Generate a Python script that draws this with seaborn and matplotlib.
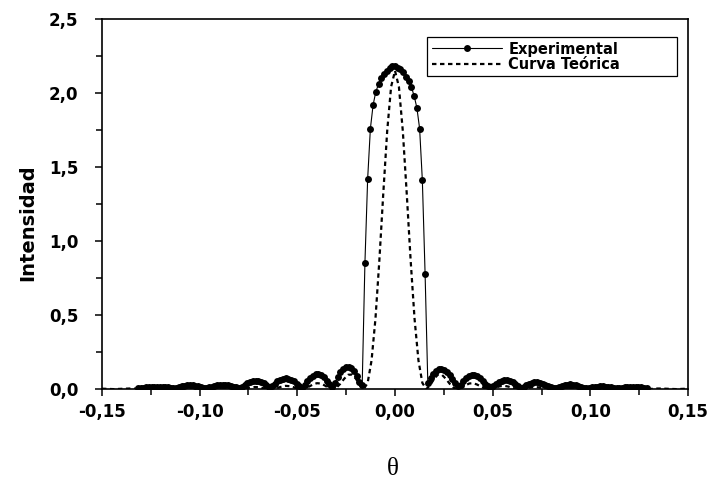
import pandas as pd
import matplotlib
matplotlib.use("Agg")
import matplotlib.pyplot as plt
import seaborn as sns
from matplotlib.ticker import MultipleLocator, FuncFormatter

# experimental points (angle, intensity)
theta_exp = [
    -0.1316, -0.1302, -0.1288, -0.1274, -0.1260, -0.1246, -0.1232, -0.1218, -0.1204, -0.1190,
    -0.1176, -0.1162, -0.1148, -0.1134, -0.1120, -0.1106, -0.1092, -0.1078, -0.1064, -0.1050,
    -0.1036, -0.1022, -0.1008, -0.0994, -0.0980, -0.0966, -0.0952, -0.0938, -0.0924, -0.0910,
    -0.0896, -0.0882, -0.0868, -0.0854, -0.0840, -0.0826, -0.0812, -0.0798, -0.0784, -0.0770,
    -0.0756, -0.0742, -0.0728, -0.0714, -0.0700, -0.0686, -0.0672, -0.0658, -0.0644, -0.0630,
    -0.0616, -0.0602, -0.0588, -0.0574, -0.0560, -0.0546, -0.0532, -0.0518, -0.0504, -0.0490,
    -0.0476, -0.0462, -0.0448, -0.0434, -0.0420, -0.0406, -0.0392, -0.0378, -0.0364, -0.0350,
    -0.0336, -0.0322, -0.0308, -0.0294, -0.0280, -0.0266, -0.0252, -0.0238, -0.0224, -0.0210,
    -0.0196, -0.0182, -0.0168, -0.0154, -0.0140, -0.0126, -0.0112, -0.0098, -0.0084, -0.0070,
    -0.0056, -0.0042, -0.0028, -0.0014, 0.0000, 0.0014, 0.0028, 0.0042, 0.0056, 0.0070,
    0.0084, 0.0098, 0.0112, 0.0126, 0.0140, 0.0154, 0.0168, 0.0182, 0.0196, 0.0210,
    0.0224, 0.0238, 0.0252, 0.0266, 0.0280, 0.0294, 0.0308, 0.0322, 0.0336, 0.0350,
    0.0364, 0.0378, 0.0392, 0.0406, 0.0420, 0.0434, 0.0448, 0.0462, 0.0476, 0.0490,
    0.0504, 0.0518, 0.0532, 0.0546, 0.0560, 0.0574, 0.0588, 0.0602, 0.0616, 0.0630,
    0.0644, 0.0658, 0.0672, 0.0686, 0.0700, 0.0714, 0.0728, 0.0742, 0.0756, 0.0770,
    0.0784, 0.0798, 0.0812, 0.0826, 0.0840, 0.0854, 0.0868, 0.0882, 0.0896, 0.0910,
    0.0924, 0.0938, 0.0952, 0.0966, 0.0980, 0.0994, 0.1008, 0.1022, 0.1036, 0.1050,
    0.1064, 0.1078, 0.1092, 0.1106, 0.1120, 0.1134, 0.1148, 0.1162, 0.1176, 0.1190,
    0.1204, 0.1218, 0.1232, 0.1246, 0.1260, 0.1274, 0.1288,
]
int_exp = [
    0.005, 0.006, 0.008, 0.011, 0.014, 0.016, 0.017, 0.017, 0.017, 0.016,
    0.014, 0.011, 0.009, 0.007, 0.010, 0.015, 0.020, 0.024, 0.027, 0.028,
    0.027, 0.024, 0.020, 0.015, 0.010, 0.007, 0.011, 0.016, 0.021, 0.025,
    0.027, 0.028, 0.027, 0.025, 0.021, 0.016, 0.011, 0.007, 0.014, 0.026,
    0.040, 0.051, 0.057, 0.058, 0.056, 0.050, 0.039, 0.026, 0.013, 0.020,
    0.036, 0.052, 0.064, 0.070, 0.072, 0.070, 0.064, 0.052, 0.036, 0.021,
    0.010, 0.028, 0.052, 0.075, 0.091, 0.099, 0.100, 0.094, 0.080, 0.058,
    0.034, 0.013, 0.040, 0.080, 0.115, 0.138, 0.149, 0.150, 0.142, 0.122,
    0.090, 0.050, 0.025, 0.85, 1.42, 1.76, 1.92, 2.01, 2.06, 2.10,
    2.13, 2.15, 2.17, 2.18, 2.18, 2.17, 2.16, 2.14, 2.11, 2.08,
    2.04, 1.98, 1.90, 1.76, 1.41, 0.78, 0.040, 0.075, 0.105, 0.125,
    0.134, 0.135, 0.130, 0.118, 0.098, 0.070, 0.040, 0.018, 0.030, 0.052,
    0.072, 0.086, 0.092, 0.092, 0.086, 0.073, 0.055, 0.035, 0.018, 0.010,
    0.018, 0.032, 0.045, 0.055, 0.060, 0.060, 0.056, 0.047, 0.034, 0.020,
    0.010, 0.016, 0.026, 0.036, 0.042, 0.045, 0.045, 0.043, 0.037, 0.029,
    0.020, 0.012, 0.008, 0.009, 0.015, 0.022, 0.028, 0.031, 0.032, 0.031,
    0.027, 0.021, 0.014, 0.009, 0.007, 0.009, 0.012, 0.015, 0.017, 0.018,
    0.018, 0.017, 0.015, 0.012, 0.009, 0.007, 0.006, 0.008, 0.011, 0.013,
    0.015, 0.015, 0.015, 0.013, 0.011, 0.009, 0.007,
]

# theoretical curve
theta_teo = [
    -0.150, -0.148, -0.146, -0.144, -0.142, -0.140, -0.138, -0.136, -0.134, -0.132,
    -0.130, -0.128, -0.126, -0.124, -0.122, -0.120, -0.118, -0.116, -0.114, -0.112,
    -0.110, -0.108, -0.106, -0.104, -0.102, -0.100, -0.098, -0.096, -0.094, -0.092,
    -0.090, -0.088, -0.086, -0.084, -0.082, -0.080, -0.078, -0.076, -0.074, -0.072,
    -0.070, -0.068, -0.066, -0.064, -0.062, -0.060, -0.058, -0.056, -0.054, -0.052,
    -0.050, -0.048, -0.046, -0.044, -0.042, -0.040, -0.038, -0.036, -0.034, -0.032,
    -0.030, -0.028, -0.026, -0.024, -0.022, -0.020, -0.018, -0.016, -0.014, -0.012,
    -0.010, -0.008, -0.006, -0.004, -0.002, 0.000, 0.002, 0.004, 0.006, 0.008,
    0.010, 0.012, 0.014, 0.016, 0.018, 0.020, 0.022, 0.024, 0.026, 0.028,
    0.030, 0.032, 0.034, 0.036, 0.038, 0.040, 0.042, 0.044, 0.046, 0.048,
    0.050, 0.052, 0.054, 0.056, 0.058, 0.060, 0.062, 0.064, 0.066, 0.068,
    0.070, 0.072, 0.074, 0.076, 0.078, 0.080, 0.082, 0.084, 0.086, 0.088,
    0.090, 0.092, 0.094, 0.096, 0.098, 0.100, 0.102, 0.104, 0.106, 0.108,
    0.110, 0.112, 0.114, 0.116, 0.118, 0.120, 0.122, 0.124, 0.126, 0.128,
    0.130, 0.132, 0.134, 0.136, 0.138, 0.140, 0.142, 0.144, 0.146, 0.148,
    0.150,
]
int_teo = [
    0.003, 0.002, 0.001, 0.000, 0.001, 0.002, 0.003, 0.004, 0.004, 0.002,
    0.001, 0.000, 0.001, 0.002, 0.004, 0.005, 0.005, 0.003, 0.001, 0.000,
    0.001, 0.003, 0.005, 0.007, 0.006, 0.004, 0.001, 0.000, 0.001, 0.004,
    0.008, 0.010, 0.009, 0.006, 0.002, 0.000, 0.002, 0.006, 0.011, 0.014,
    0.013, 0.008, 0.003, 0.000, 0.003, 0.009, 0.017, 0.022, 0.020, 0.013,
    0.004, 0.000, 0.005, 0.017, 0.031, 0.040, 0.038, 0.025, 0.008, 0.000,
    0.009, 0.036, 0.070, 0.097, 0.098, 0.070, 0.025, 0.000, 0.042, 0.194,
    0.476, 0.871, 1.322, 1.743, 2.042, 2.150, 2.042, 1.743, 1.322, 0.871,
    0.476, 0.194, 0.042, 0.000, 0.025, 0.070, 0.098, 0.097, 0.070, 0.036,
    0.009, 0.000, 0.008, 0.025, 0.038, 0.040, 0.031, 0.017, 0.005, 0.000,
    0.004, 0.013, 0.020, 0.022, 0.017, 0.009, 0.003, 0.000, 0.003, 0.008,
    0.013, 0.014, 0.011, 0.006, 0.002, 0.000, 0.002, 0.006, 0.009, 0.010,
    0.008, 0.004, 0.001, 0.000, 0.001, 0.004, 0.006, 0.007, 0.005, 0.003,
    0.001, 0.000, 0.001, 0.003, 0.005, 0.005, 0.004, 0.002, 0.001, 0.000,
    0.001, 0.002, 0.004, 0.004, 0.003, 0.002, 0.001, 0.000, 0.001, 0.002,
    0.003,
]

assert len(theta_exp) == len(int_exp), (len(theta_exp), len(int_exp))
assert len(theta_teo) == len(int_teo), (len(theta_teo), len(int_teo))

df_exp = pd.DataFrame({'theta': theta_exp, 'I': int_exp})
df_teo = pd.DataFrame({'theta': theta_teo, 'I': int_teo})

sns.set_theme(style="ticks")
plt.rcParams['font.family'] = ['DejaVu Sans']
plt.rcParams['text.color'] = 'black'
plt.rcParams['axes.labelcolor'] = 'black'
plt.rcParams['xtick.color'] = 'black'
plt.rcParams['ytick.color'] = 'black'

fig = plt.figure(figsize=(7.13, 4.87), dpi=100)
ax = fig.add_axes([0.143, 0.201, 0.822, 0.760])

sns.lineplot(data=df_exp, x='theta', y='I', ax=ax, color='black', linewidth=0.8,
             marker='o', markersize=5, markeredgewidth=0, estimator=None,
             label='Experimental')
sns.lineplot(data=df_teo, x='theta', y='I', ax=ax, color='black', linewidth=1.6,
             estimator=None, label='Curva Teórica')
ax.lines[1].set_dashes((2.0, 1.6))

ax.set_xlim(-0.15, 0.15)
ax.set_ylim(0, 2.5)
ax.xaxis.set_major_locator(MultipleLocator(0.05))
ax.xaxis.set_minor_locator(MultipleLocator(0.025))
ax.yaxis.set_major_locator(MultipleLocator(0.5))
ax.yaxis.set_minor_locator(MultipleLocator(0.25))
ax.xaxis.set_major_formatter(FuncFormatter(lambda v, p: f"{v:.2f}".replace('.', ',').replace('-0,00', '0,00')))
ax.yaxis.set_major_formatter(FuncFormatter(lambda v, p: f"{v:.1f}".replace('.', ',')))

ax.tick_params(which='major', direction='out', length=5, width=1.1, labelsize=12)
ax.tick_params(which='minor', direction='out', length=4.5, width=1.1)
ax.tick_params(axis='y', which='major', pad=12)
ax.tick_params(axis='x', which='major', pad=5)
for lab in ax.get_xticklabels() + ax.get_yticklabels():
    lab.set_fontweight('bold')
for s in ax.spines.values():
    s.set_linewidth(1.2)
    s.set_color('black')
    s.set_visible(True)

ax.set_ylabel('Intensidad', fontsize=14, fontweight='bold')
ax.yaxis.set_label_coords(-0.111, 0.451)
ax.set_xlabel('θ', fontsize=18, family=['Liberation Serif', 'DejaVu Serif'])
ax.xaxis.set_label_coords(0.497, -0.185)

leg = ax.legend(loc='upper left', bbox_to_anchor=(0.555, 0.951, 0.427, 0), mode='expand',
                borderaxespad=0, frameon=True, fancybox=False, edgecolor='black',
                framealpha=1, borderpad=0.3, handlelength=4.8, handletextpad=0.45,
                labelspacing=0.02, prop={'weight': 'bold', 'size': 10.5})
leg.get_frame().set_linewidth(0.9)

fig.savefig('out.png', dpi=100)
